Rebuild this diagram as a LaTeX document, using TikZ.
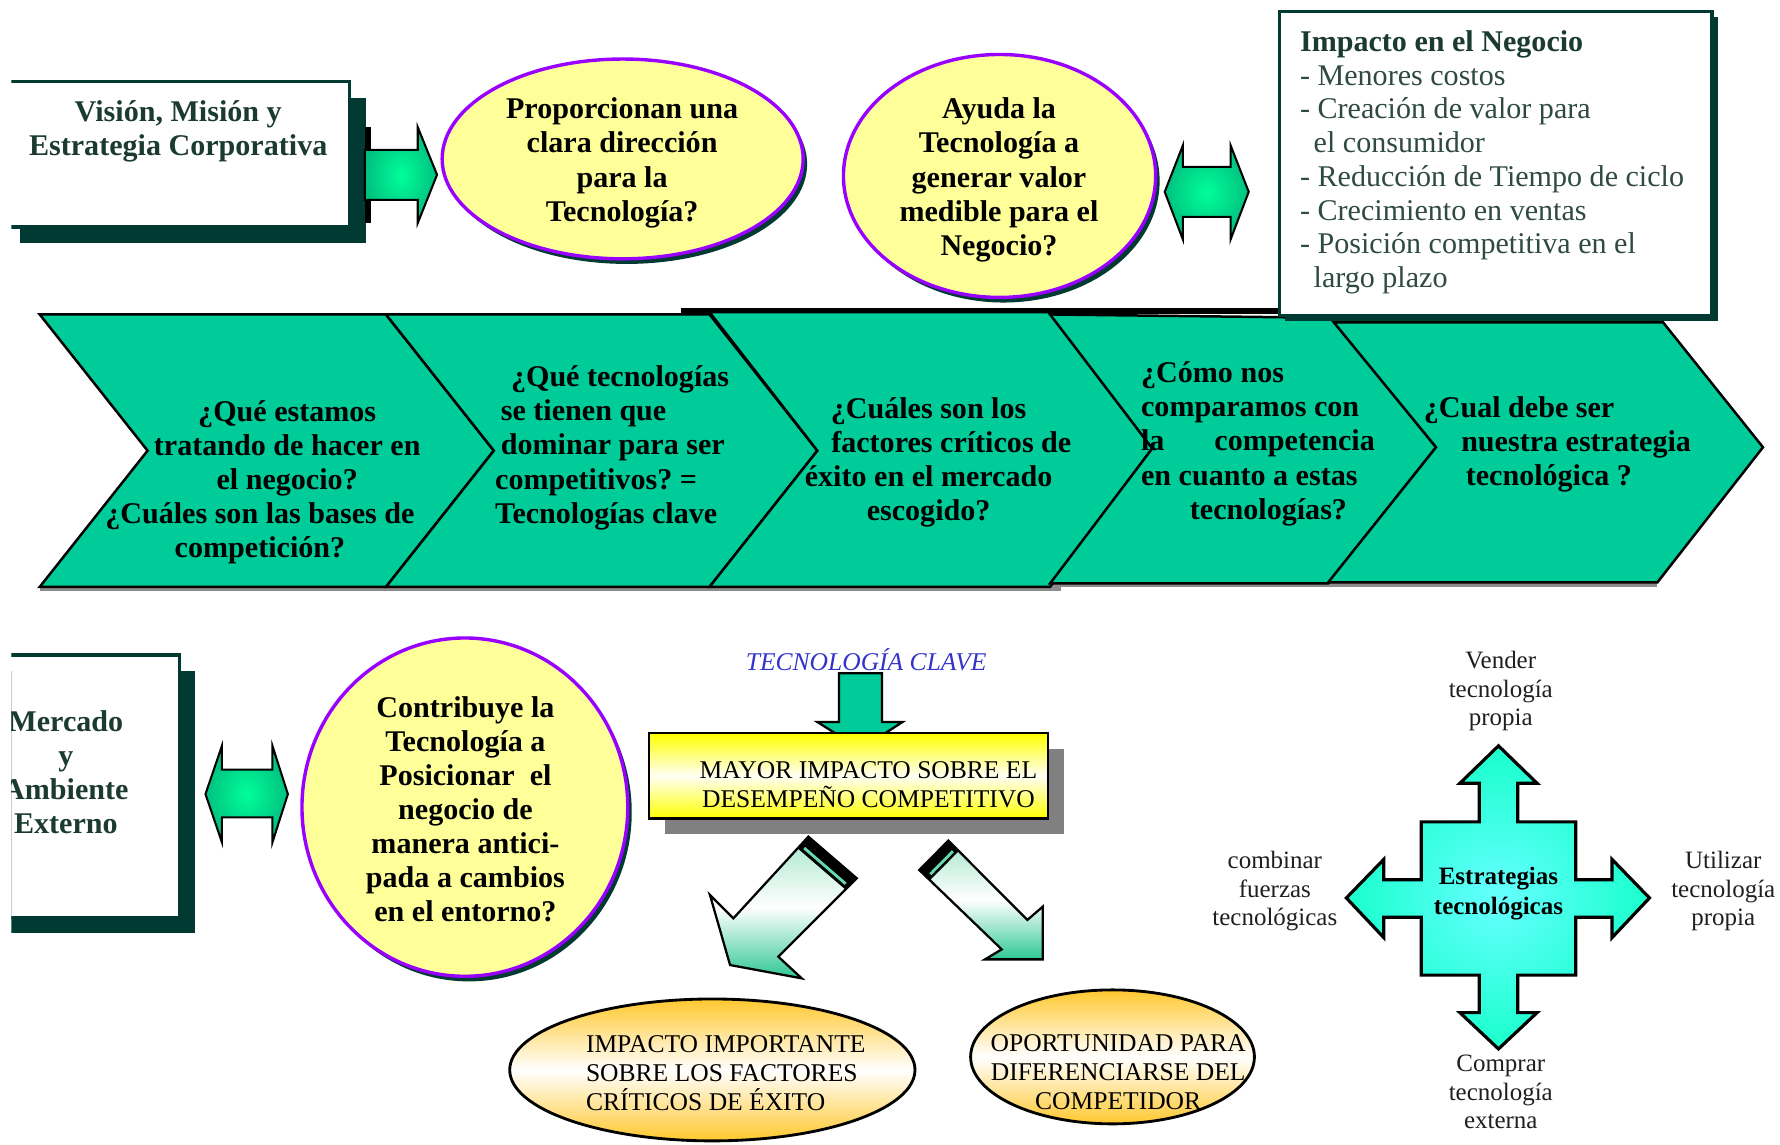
\documentclass[tikz,border=0pt]{standalone}
\usepackage{fontspec}
\setmainfont{Liberation Serif}
\usetikzlibrary{shapes.geometric}
\frenchspacing

\definecolor{chevfill}{HTML}{00CC99}
\definecolor{darkbox}{HTML}{003A33}
\definecolor{boxtext}{HTML}{1B3A32}
\definecolor{listtext}{HTML}{2F4A42}
\definecolor{ellfill}{HTML}{FFFF99}
\definecolor{ellline}{HTML}{9900FF}
\definecolor{arrowlight}{HTML}{00FF99}
\definecolor{arrowdark}{HTML}{00C080}
\definecolor{keyblue}{HTML}{3333CC}
\definecolor{orangefill}{HTML}{FFC82E}
\definecolor{crossin}{HTML}{66FFFF}
\definecolor{crossout}{HTML}{19FFCC}
\definecolor{diaglight}{HTML}{A6E6CC}
\definecolor{diagdark}{HTML}{2EC792}
\definecolor{diagstripe}{HTML}{66D9B0}
\definecolor{graysh}{HTML}{808080}

\begin{document}
\begin{tikzpicture}[x=1pt,y=-1pt,
  boldtxt/.style={font=\fontsize{26.5}{30}\selectfont\bfseries, inner sep=0pt, align=center},
  listtxt/.style={font=\fontsize{26.5}{29.7}\selectfont, inner sep=0pt, align=left},
  midtxt/.style={font=\fontsize{22.5}{25.5}\selectfont, inner sep=0pt},
  labtxt/.style={font=\fontsize{22}{25}\selectfont, inner sep=0pt, align=center, text=black!88},
  chevron/.style={fill=chevfill, draw=black, line width=2.2pt, line join=miter},
  blockarrow/.style={draw=black, line width=1.8pt, inner color=arrowlight, outer color=arrowdark, line join=miter},
  diagarrow/.style={draw=black, line width=2pt, top color=diaglight, bottom color=diagdark, middle color=white, line join=miter},
  qell/.style={ellipse, fill=ellfill, draw=ellline, line width=3pt, inner sep=0pt, outer sep=0pt},
  oell/.style={ellipse, draw=black, line width=2.5pt, top color=orangefill, bottom color=orangefill, middle color=white, inner sep=0pt, outer sep=0pt},
  framebox/.style={draw=darkbox, fill=white, line width=3pt, inner sep=0pt, outer sep=0pt, anchor=north west}
]
\useasboundingbox[fill=white] (0,0) rectangle (1568,1008);

% ---------- left boxes (cut at the left margin) ----------
\begin{scope}
  \clip (10,0) rectangle (400,1008);
  \fill[darkbox] (18,86) rectangle (322,214);
  \node[framebox, minimum width=304pt, minimum height=128pt] (vision) at (4,72) {};
  \fill[darkbox] (4,591) rectangle (172,822);
  \node[framebox, minimum width=168pt, minimum height=231pt] (mercado) at (-10,577) {};
  \node[boldtxt, text=boxtext] (mercadotxt) at (58,680) {Mercado\\y\\Ambiente\\Externo};
\end{scope}
\node[boldtxt, text=boxtext] (visiontxt) at (157,116) {Visión, Misión y\\Estrategia Corporativa};

% ---------- arrow from the vision box ----------
\fill[black] (321.5,112) rectangle (327,196.5);
\draw[blockarrow] (321.5,132) -- (368,132) -- (368,112) -- (385,154) -- (368,196.5) -- (368,176) -- (321.5,176) -- cycle;

% ---------- question ellipses (top) ----------
\fill[darkbox] (552,144.5) ellipse [x radius=159, y radius=88];
\node[qell, minimum width=318pt, minimum height=176pt] (q1) at (548.5,140) {};
\node[boldtxt] (q1txt) at (548,143.5) {Proporcionan una\\clara dirección\\para la\\Tecnología?};

\fill[darkbox] (884,159.5) ellipse [x radius=137.5, y radius=107];
\node[qell, minimum width=275pt, minimum height=214pt] (q2) at (880.5,155) {};
\node[boldtxt] (q2txt) at (880,158.5) {Ayuda la\\Tecnología a\\generar valor\\medible para el\\Negocio?};

% ---------- double arrow to the impact box ----------
\draw[blockarrow] (1026,169) -- (1042,128) -- (1042,147) -- (1084,147) -- (1084,128) -- (1100,169)
  -- (1084,211) -- (1084,191) -- (1042,191) -- (1042,211) -- cycle;

% ---------- chevron chain ----------
\fill[black] (600,271) rectangle (1127,277);
\fill[black!45] (35,517) rectangle (935,521);
\fill[black!45] (925,514) rectangle (1460,517);
\draw[chevron] (35,277) -- (340,277) -- (435,397) -- (340,517) -- (35,517) -- (130,397) -- cycle;
\draw[chevron] (340,277) -- (625,277) -- (720,397) -- (625,517) -- (340,517) -- (435,397) -- cycle;
\draw[chevron] (625,275) -- (925,275) -- (1015,395) -- (925,517) -- (625,517) -- (720,397) -- cycle;
\draw[chevron] (925,277) -- (1175,280) -- (1265,394) -- (1170,514) -- (925,514) -- (1015,395) -- cycle;
\draw[chevron] (1175,284) -- (1465,284) -- (1553,394) -- (1460,513) -- (1170,513) -- (1265,394) -- cycle;

\node[boldtxt] (c1txt) at (253,424.5) {¿Qué estamos\\tratando de hacer en\\el negocio?\\\hspace*{-48pt}¿Cuáles son las bases de\\\hspace*{-48pt}competición?};
\node[boldtxt, align=left, anchor=west] (c2txt) at (436,394.5) {\hspace*{14pt}¿Qué tecnologías\\\hspace*{5pt}se tienen que\\\hspace*{5pt}dominar para ser\\competitivos? =\\Tecnologías clave};
\node[boldtxt] (c3txt) at (818,407) {¿Cuáles son los\\\hspace*{40pt}factores críticos de\\éxito en el mercado\\escogido?};
\node[boldtxt, align=left, anchor=west] (c4txt) at (1005,391) {¿Cómo nos\\comparamos con\\la\hspace*{44pt}competencia\\en cuanto a estas\\\hspace*{43pt}tecnologías?};
\node[boldtxt, align=left, anchor=west] (c5txt) at (1254,391.5) {¿Cual debe ser\\\hspace*{33pt}nuestra estrategia\\\hspace*{37pt}tecnológica ?};

% ---------- impact box ----------
\fill[darkbox] (1132,15) rectangle (1513,283);
\node[framebox, minimum width=381pt, minimum height=268pt] (impacto) at (1127,10) {};
\node[listtxt, text=listtext, anchor=west] (impactotxt) at (1145,143) {{\color{boxtext}\bfseries Impacto en el Negocio}\\- Menores costos\\- Creación de valor para\\\hspace*{12pt}el consumidor\\- Reducción de Tiempo de ciclo\\- Crecimiento en ventas\\- Posición competitiva en el\\\hspace*{12pt}largo plazo};

% ---------- lower left: market and anticipation ----------
\draw[blockarrow] (181,699.5) -- (195.5,657) -- (195.5,678) -- (240,678) -- (240,657) -- (253.6,699.5)
  -- (240,742) -- (240,720) -- (195.5,720) -- (195.5,742) -- cycle;

\fill[darkbox] (413,715.5) ellipse [x radius=143.5, y radius=149];
\node[qell, minimum width=287pt, minimum height=298pt] (q3) at (409.5,711) {};
\node[boldtxt] (q3txt) at (410,713) {Contribuye la\\Tecnología a\\Posicionar\ \ el\\negocio de\\manera antici-\\pada a cambios\\en el entorno?};

% ---------- key technology block ----------
\node[font=\fontsize{22.5}{26}\selectfont\itshape, text=keyblue, inner sep=0pt] (clave) at (763,581) {TECNOLOGÍA CLAVE};
\draw[fill=chevfill, line width=2pt, line join=miter] (739,593) -- (777,593) -- (777,636) -- (795,636) -- (758,660) -- (720,636) -- (739,636) -- cycle;

\fill[graysh] (586,660) rectangle (937,735);
\node[draw=black, line width=2pt, top color=yellow, bottom color=yellow, middle color=yellow!4,
      minimum width=351pt, minimum height=75pt, inner sep=0pt, anchor=north west] (mayor) at (571,645) {};
\node[midtxt, align=center] (mayortxt) at (765,691.5) {MAYOR IMPACTO SOBRE EL\\DESEMPEÑO COMPETITIVO};

% diagonal arrows with capped tails
\draw[diagarrow] (712.1,737.0) -- (646.0,809.0) -- (625.4,788.4) -- (643.1,850.1) -- (706.2,861.8) -- (685.6,842.7) -- (754.7,773.7) -- cycle;
\fill[black] (712.1,737.0) -- (754.7,773.7) -- (745.2,784.0) -- (702.6,747.3) -- cycle;
\draw[diagstripe, line width=2.5pt] (708.4,747.0) -- (744.9,778.5);

\draw[diagarrow] (835.4,740.5) -- (905.0,810.4) -- (918.5,798.7) -- (918.5,845.1) -- (867.7,845.1) -- (882.4,836.3) -- (809.8,766.4) -- cycle;
\fill[black] (835.4,740.5) -- (809.8,766.4) -- (819.2,775.4) -- (844.8,749.5) -- cycle;
\draw[diagstripe, line width=2.5pt] (839.4,749.9) -- (819.5,770.1);

% outcome ellipses
\node[oell, minimum width=357pt, minimum height=125pt] (impimp) at (627.5,942.5) {};
\node[midtxt, align=left, anchor=west] (impimptxt) at (516,945) {IMPACTO IMPORTANTE\\SOBRE LOS FACTORES\\CRÍTICOS DE ÉXITO};
\node[oell, minimum width=250pt, minimum height=118pt] (oport) at (980,931) {};
\node[midtxt, align=center] (oporttxt) at (985,944.5) {OPORTUNIDAD PARA\\DIFERENCIARSE DEL\\COMPETIDOR};

% ---------- technology strategy cross ----------
\shadedraw[inner color=crossin, outer color=crossout, draw=black, line width=2.8pt, line join=miter]
  (1320,657) -- (1354,690) -- (1337,690) -- (1337,724) -- (1388,724) -- (1388,775) -- (1420,775) -- (1420,757)
  -- (1453,791) -- (1420,826) -- (1420,808) -- (1388,808) -- (1388,859) -- (1337,859) -- (1337,892) -- (1354,892)
  -- (1320,924) -- (1286,892) -- (1303,892) -- (1303,859) -- (1252,859) -- (1252,808) -- (1219,808) -- (1219,826)
  -- (1186,791) -- (1219,757) -- (1219,775) -- (1252,775) -- (1252,724) -- (1303,724) -- (1303,690) -- (1286,690) -- cycle;
\node[font=\fontsize{22}{26}\selectfont\bfseries, align=center, inner sep=0pt] (estrat) at (1320,787) {Estrategias\\tecnológicas};

\node[labtxt] (vender) at (1322,609) {Vender\\tecnología\\propia};
\node[labtxt] (combinar) at (1123,785) {combinar\\fuerzas\\tecnológicas};
\node[labtxt] (utilizar) at (1518,785) {Utilizar\\tecnología\\propia};
\node[labtxt] (comprar) at (1322,962) {Comprar\\tecnología\\externa};
\end{tikzpicture}
\end{document}
